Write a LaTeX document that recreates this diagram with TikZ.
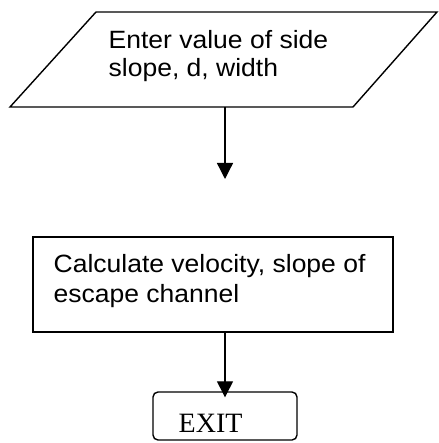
\documentclass[tikz,border=0pt]{standalone}
\usepackage{fontspec}
\setmainfont{Liberation Sans}
\newfontfamily\exitfont{Liberation Serif}
\usetikzlibrary{arrows.meta}
\newcommand\wide[1]{\scalebox{1.06}[1]{#1}}
\begin{document}
\begin{tikzpicture}[x=1pt,y=-1pt,line width=1.4pt,
  txt/.style={anchor=base west,inner sep=0pt,font=\fontsize{25}{30}\selectfont},
  flow/.style={-{Triangle[length=16pt,width=16pt]},line width=1.3pt},
  box/.style={draw,inner sep=0pt}]
\useasboundingbox (0,0) rectangle (438,443);

% input parallelogram
\draw (96,12) -- (437,12) -- (353,107) -- (10,107) -- cycle;
\coordinate (in-out) at (225,107);
\node[txt] (in-l1) at (108,48.5) {\wide{Enter value of side}};
\node[txt] (in-l2) at (108,77) {\wide{slope, d, width}};

% arrow below the input
\coordinate (a1-end) at (225,179);
\draw[flow] (in-out) -- (a1-end);

% process box
\node[box,minimum width=360pt,minimum height=95pt] (calc) at (213,284.5) {};
\node[txt] (calc-l1) at (53,272) {\wide{Calculate velocity, slope of}};
\node[txt] (calc-l2) at (53,302) {\wide{escape channel}};

% terminal box
\node[box,rounded corners=5pt,minimum width=144pt,minimum height=48pt] (exit) at (225,416) {};
\begin{scope}
  \clip (153,392) rectangle (297,431);
  \node[anchor=base west,inner sep=0pt,font=\exitfont\fontsize{28}{30}\selectfont] (exit-t) at (178,432.5) {EXIT};
\end{scope}

\draw[flow,shorten >=-6pt] (calc.south -| exit.north) -- (exit.north);
\end{tikzpicture}
\end{document}
